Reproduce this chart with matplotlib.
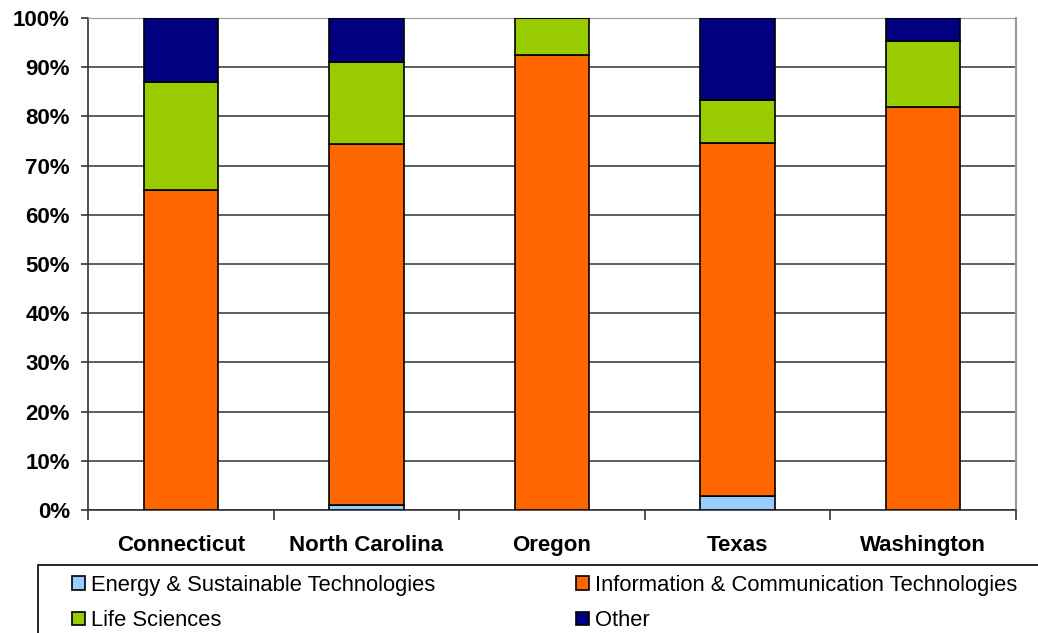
import numpy as np
import matplotlib
matplotlib.use("Agg")
import matplotlib.pyplot as plt
from matplotlib.patches import Rectangle
from matplotlib.ticker import FixedLocator, PercentFormatter

plt.rcParams["font.family"] = ["Liberation Sans", "DejaVu Sans"]

# Share of companies by sector, per state (%)
states = ["Connecticut", "North Carolina", "Oregon", "Texas", "Washington"]
energy = [0.0, 1.0, 0.0, 2.8, 0.0]
ict = [65.0, 73.3, 92.5, 71.8, 81.9]
life = [22.0, 16.8, 7.5, 8.7, 13.4]
other = [13.0, 8.9, 0.0, 16.7, 4.7]

series = [
    ("Energy & Sustainable Technologies", energy, "#99CCFF"),
    ("Information & Communication Technologies", ict, "#FF6600"),
    ("Life Sciences", life, "#99CC00"),
    ("Other", other, "#000080"),
]

W, H = 1038, 633
fig = plt.figure(figsize=(W / 100, H / 100), dpi=100)
ax = fig.add_axes([88 / W, 1 - 510 / H, 928 / W, 492 / H])

x = np.arange(len(states))
bottom = np.zeros(len(states))
handles = []
for label, vals, color in series:
    vals = np.array(vals)
    b = ax.bar(x, vals, width=0.4, bottom=bottom, color=color,
               edgecolor="black", linewidth=1.2, label=label, zorder=3)
    handles.append(b)
    bottom += vals

ax.set_xlim(-0.5, len(states) - 0.5)
ax.set_ylim(0, 100)
ax.yaxis.set_major_locator(FixedLocator(np.arange(0, 101, 10)))
ax.yaxis.set_major_formatter(PercentFormatter(decimals=0))
ax.grid(axis="y", color="#333333", linewidth=1.1, zorder=0)
ax.set_axisbelow(True)

ax.set_xticks(x)
ax.set_xticklabels(states)
ax.set_xticks(np.arange(-0.5, len(states), 1.0), minor=True)
ax.tick_params(axis="x", which="major", length=0, pad=18)
ax.tick_params(axis="x", which="minor", length=7, width=1.2, color="#333333")
ax.tick_params(axis="y", length=5, width=1.2, color="#333333", pad=8)
for lab in ax.get_xticklabels() + ax.get_yticklabels():
    lab.set_fontsize(16)
    lab.set_fontweight("bold")

ax.spines["left"].set_color("#333333")
ax.spines["left"].set_linewidth(1.2)
ax.spines["bottom"].set_color("#333333")
ax.spines["bottom"].set_linewidth(1.2)
ax.spines["top"].set_color("#999999")
ax.spines["right"].set_color("#999999")
ax.spines["right"].set_linewidth(1.5)

# legend box, cut off by the figure edge like the original
fig.patches.append(Rectangle((38 / W, -0.05), 1.1, 0.05 + (H - 565) / H,
                             transform=fig.transFigure, fill=False,
                             edgecolor="black", linewidth=1.2, clip_on=False))
# row-wise order: matplotlib fills legend columns first
order = [0, 2, 1, 3]
fig.legend(handles=[handles[i] for i in order], loc="upper left",
           bbox_to_anchor=(72 / W, 1 - 575 / H), ncol=2, frameon=False,
           fontsize=15.8, handlelength=0.6, handleheight=0.6,
           handletextpad=0.25, columnspacing=6.43, labelspacing=0.65,
           borderpad=0, borderaxespad=0)

fig.savefig("out.png", dpi=100)
